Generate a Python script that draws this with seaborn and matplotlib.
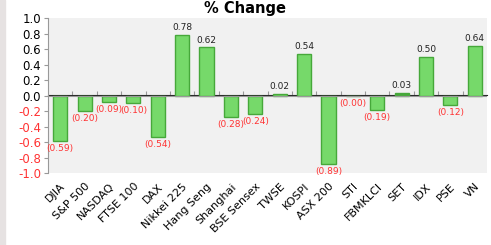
import matplotlib
matplotlib.use('Agg')
import matplotlib.pyplot as plt
from matplotlib.patches import Rectangle
import seaborn as sns
import pandas as pd

# data
indices = ['DJIA', 'S&P 500', 'NASDAQ', 'FTSE 100', 'DAX', 'Nikkei 225', 'Hang Seng',
           'Shanghai', 'BSE Sensex', 'TWSE', 'KOSPI', 'ASX 200', 'STI', 'FBMKLCI',
           'SET', 'IDX', 'PSE', 'VN']
changes = [-0.59, -0.20, -0.09, -0.10, -0.54, 0.78, 0.62,
           -0.28, -0.24, 0.02, 0.54, -0.89, -0.004, -0.19,
           0.03, 0.50, -0.12, 0.64]
y_ticks = [1.0, 0.8, 0.6, 0.4, 0.2, 0.0, -0.2, -0.4, -0.6, -0.8, -1.0]

green = '#76d96a'
edge = '#46a83a'
red = '#ff3333'

df = pd.DataFrame({'index': indices, 'change': changes})
colors = {k: (edge if k == 'SET' else green) for k in indices}

sns.set_style('white')
plt.rcParams['text.color'] = 'black'
plt.rcParams['xtick.color'] = 'black'
plt.rcParams['ytick.color'] = 'black'

fig = plt.figure(figsize=(4.91, 2.45), dpi=100)
fig.patches.append(Rectangle((0, 0), 5 / 491, 1, transform=fig.transFigure,
                             color='#e6e2e2', zorder=0))
ax = fig.add_axes([48 / 491, 72 / 245, 439 / 491, 155 / 245])
ax.set_facecolor('#f1f1f1')

sns.barplot(data=df, x='index', y='change', hue='index', palette=colors,
            legend=False, width=0.58, saturation=1, edgecolor=edge, linewidth=1, ax=ax)

ax.set_ylim(-1.0, 1.0)
ax.set_xlim(-0.5, len(indices) - 0.5)
ax.set_yticks(y_ticks)
ax.set_yticklabels([f'{v:.1f}' for v in y_ticks], fontsize=8.5)
for lbl, v in zip(ax.get_yticklabels(), y_ticks):
    lbl.set_color(red if v < 0 else 'black')
ax.tick_params(axis='y', length=3, color='#999999', pad=2, left=True)
ax.set_xticks(range(len(indices)))
ax.set_xticklabels(indices, rotation=45, ha='right', rotation_mode='anchor', fontsize=8)
ax.tick_params(axis='x', length=0, pad=6)
ax.set_xlabel('')
ax.set_ylabel('')

for s in ['top', 'right', 'bottom']:
    ax.spines[s].set_visible(False)
ax.spines['left'].set_color('#999999')

# zero line with small ticks between categories
ax.axhline(0, color='#999999', lw=0.8, zorder=1)
sec = ax.secondary_xaxis(0.5)
sec.set_xticks([i + 0.5 for i in range(len(indices) - 1)])
sec.set_xticklabels([])
sec.tick_params(axis='x', length=3, direction='out', color='#999999')
sec.spines['bottom'].set_visible(False)

for i, v in enumerate(changes):
    if v >= 0:
        ax.annotate(f'{v:.2f}', (i, v), xytext=(0, 2), textcoords='offset points',
                    ha='center', va='bottom', fontsize=6.5, color='#222222')
    else:
        ax.annotate(f'({abs(v):.2f})', (i, v), xytext=(0, -2), textcoords='offset points',
                    ha='center', va='top', fontsize=6.5, color=red)

fig.text(0.5, 0.995, '% Change', ha='center', va='top', fontsize=10.5,
         fontweight='bold', color='black')

fig.savefig('out.png', dpi=100)
